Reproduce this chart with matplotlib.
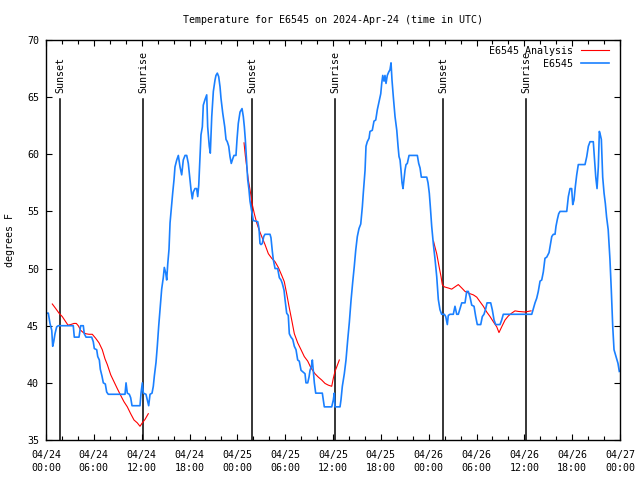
import datetime as dt
import matplotlib
matplotlib.use("Agg")
import matplotlib.pyplot as plt
import matplotlib.dates as mdates

# Observations: hours since 2024-04-24 00:00 UTC, temperature (F)
obs_hours = [
    0.00, 0.29, 0.50, 0.72, 0.84, 0.97, 1.13, 1.34, 1.54, 3.42, 3.55, 4.14, 4.35, 4.68, 4.80, 5.02,
    5.73, 5.93, 6.06, 6.36, 6.49, 6.69, 6.81, 7.02, 7.19, 7.44, 7.61, 7.81, 9.91, 10.04, 10.20, 10.45,
    10.62, 10.79, 11.79, 11.92, 12.08, 12.21, 12.54, 12.71, 12.88, 13.05, 13.30, 13.46, 13.59, 13.80,
    13.96, 14.14, 14.30, 14.51, 14.71, 14.84, 15.02, 15.14, 15.27, 15.43, 15.56, 15.77, 15.89, 16.06,
    16.18, 16.40, 16.60, 16.81, 17.02, 17.22, 17.44, 17.65, 17.85, 18.06, 18.19, 18.35, 18.48, 18.69,
    18.90, 19.03, 19.16, 19.32, 19.44, 19.61, 19.73, 19.95, 20.16, 20.28, 20.48, 20.61, 20.79, 20.99,
    21.20, 21.32, 21.49, 21.66, 21.83, 21.95, 22.17, 22.42, 22.58, 22.74, 22.92, 23.08, 23.24, 23.42,
    23.58, 23.83, 23.96, 24.12, 24.34, 24.59, 24.75, 24.88, 25.00, 25.18, 25.30, 25.46, 25.59, 25.80,
    26.00, 26.56, 26.72, 26.84, 26.97, 27.13, 27.31, 27.47, 28.10, 28.22, 28.39, 28.51, 28.73, 29.06,
    29.27, 29.48, 29.64, 29.86, 29.98, 30.19, 30.39, 30.52, 30.73, 30.95, 31.15, 31.36, 31.57, 31.77,
    31.99, 32.49, 32.61, 32.83, 32.99, 33.12, 33.28, 33.41, 33.53, 33.66, 33.83, 34.66, 34.79, 34.91,
    35.84, 36.04, 36.16, 36.25, 36.88, 37.00, 37.17, 37.42, 37.63, 37.85, 38.05, 38.26, 38.47, 38.67,
    38.85, 39.05, 39.26, 39.48, 39.68, 39.80, 40.02, 40.14, 40.30, 40.52, 40.64, 40.93, 41.14, 41.36,
    41.56, 41.77, 41.99, 42.11, 42.24, 42.40, 42.52, 42.65, 42.81, 42.99, 43.15, 43.28, 43.40, 43.57,
    43.78, 44.00, 44.16, 44.28, 44.41, 44.53, 44.66, 44.78, 44.91, 45.03, 45.16, 45.32, 45.54, 46.58,
    46.75, 46.92, 47.08, 47.76, 47.92, 48.08, 48.21, 48.38, 48.58, 48.80, 49.01, 49.21, 49.42, 49.63,
    49.96, 50.14, 50.34, 50.46, 50.68, 51.09, 51.30, 51.52, 51.72, 51.93, 52.15, 52.56, 52.77, 52.97,
    53.19, 53.40, 53.69, 53.90, 54.10, 54.53, 54.73, 54.94, 55.16, 55.32, 55.78, 55.98, 56.20, 56.41,
    56.95, 57.16, 57.36, 60.93, 61.13, 61.34, 61.55, 61.75, 61.97, 62.18, 62.38, 62.59, 62.81, 63.10,
    63.44, 63.64, 63.85, 63.97, 64.14, 64.31, 64.48, 65.32, 65.52, 65.73, 65.94, 66.07, 66.23, 66.40,
    66.57, 66.77, 67.61, 67.83, 68.03, 68.24, 68.65, 68.78, 68.96, 69.12, 69.28, 69.41, 69.53, 69.66,
    69.83, 70.00, 70.16, 70.32, 70.52, 70.74, 70.91, 71.09, 71.25, 71.50, 71.75, 71.91,
]
obs_temp = [
    46.1, 46.1, 45.2, 44.6, 43.2, 43.6, 44.3, 44.9, 45.0, 45.0, 44.0, 44.0, 45.0, 45.0, 44.3, 44.0,
    44.0, 43.6, 43.0, 42.9, 42.3, 42.0, 41.2, 40.6, 40.0, 39.9, 39.2, 39.0, 39.0, 40.0, 39.1, 39.0,
    38.7, 38.0, 38.0, 39.1, 40.0, 39.1, 39.0, 38.5, 38.0, 39.0, 39.1, 39.7, 40.6, 41.8,
    43.2, 45.0, 46.4, 48.2, 49.2, 50.1, 49.6, 49.0, 50.4, 51.7, 54.0, 55.7, 56.6, 57.8,
    58.9, 59.5, 59.9, 58.9, 58.2, 59.5, 59.9, 59.9, 59.2, 57.8, 56.9, 56.1, 56.7, 57.0,
    57.0, 56.3, 57.3, 59.8, 61.7, 62.4, 64.3, 64.8, 65.2, 62.4, 60.7, 60.1, 63.3, 65.5,
    66.5, 66.9, 67.1, 66.8, 65.9, 64.9, 63.6, 62.4, 61.3, 61.1, 60.7, 59.8, 59.2, 59.6,
    59.9, 59.9, 61.3, 62.7, 63.7, 64.0, 63.3, 62.4, 61.3, 59.2, 57.8, 56.9, 55.9, 55.0,
    54.2, 54.1, 53.5, 52.2, 52.1, 52.2, 52.8, 53.0, 53.0, 52.7, 51.5, 50.8, 50.0, 50.0,
    49.2, 49.0, 48.7, 48.1, 47.3, 46.1, 45.9, 44.3, 44.0, 43.8, 43.2, 42.9, 42.0, 41.9,
    41.1, 40.8, 40.0, 40.0, 40.5, 41.1, 41.4, 42.0, 41.0, 40.0, 39.1, 39.1, 38.5, 37.9,
    37.9, 38.5, 39.1, 37.9, 37.9, 38.5, 39.7, 40.8, 42.0, 43.8, 45.3, 47.2, 48.8, 50.2,
    51.6, 52.8, 53.5, 53.9, 55.4, 56.6, 58.6, 60.7, 61.1, 61.4, 62.0, 62.1, 62.9, 63.0,
    63.9, 64.6, 65.3, 66.2, 66.9, 66.4, 66.9, 66.2, 66.9, 67.2, 67.4, 68.0, 66.5, 65.0,
    63.3, 62.1, 60.7, 59.8, 59.5, 58.6, 57.5, 57.0, 57.8, 58.6, 59.1, 59.2, 59.9, 59.9,
    59.2, 58.8, 58.0, 58.0, 57.5, 56.6, 55.4, 53.7, 52.2, 50.8, 49.3, 47.3, 46.4, 46.0,
    46.0, 45.8, 45.1, 45.9, 46.0, 46.0, 46.7, 46.0, 46.0, 46.5, 47.0, 47.0, 48.0, 48.0,
    47.5, 46.8, 46.7, 45.8, 45.1, 45.1, 45.8, 46.0, 46.5, 47.0, 47.0, 46.4, 45.5, 45.1,
    45.1, 45.5, 46.0, 46.0, 46.5, 47.0, 47.4, 48.0, 48.9, 49.0, 49.7, 50.9, 51.0, 51.4,
    52.8, 53.0, 53.0, 53.7, 54.3, 54.8, 55.0, 55.0, 56.3, 57.0, 57.0, 55.6, 56.0, 57.2,
    58.2, 59.1, 59.1, 59.8, 60.7, 61.1, 61.1, 59.8, 58.0, 57.0, 58.9, 62.0, 61.7, 61.3,
    58.0, 56.6, 55.7, 54.5, 53.4, 50.8, 48.1, 44.9, 42.9, 42.3, 41.7, 41.0,
]

# Analysis: three overnight pieces
ana_hours = [
    [0.79, 1.22, 1.63, 2.04, 2.47, 2.76, 3.10, 3.51, 3.80, 4.05, 4.35, 4.68, 4.98, 5.39, 5.81,
     6.23, 6.65, 7.06, 7.40, 7.69, 8.12, 8.53, 8.94, 9.37, 9.78, 10.20, 10.62, 11.04, 11.45,
     11.79, 12.08, 12.42, 12.83],
    [24.84, 25.00, 25.38, 25.59, 25.88, 26.13, 26.43, 26.72, 27.06, 27.47, 27.89, 28.31, 28.73,
     29.14, 29.57, 29.89, 30.19, 30.48, 30.82, 31.15, 31.57, 31.99, 32.40, 32.83, 33.24, 33.74,
     34.16, 34.58, 35.00, 35.41, 35.84, 36.04, 36.25, 36.47, 36.79],
    [48.61, 48.71, 49.01, 49.30, 49.55, 49.71, 49.96, 50.46, 50.89, 51.30, 51.72, 52.15, 52.56,
     53.19, 53.60, 54.03, 54.44, 54.86, 55.28, 55.70, 56.11, 56.54, 56.82, 57.16, 57.58, 57.99,
     58.41, 58.83, 59.24, 60.08, 60.84],
]
ana_temp = [
    [46.9, 46.5, 46.1, 45.8, 45.35, 45.05, 45.1, 45.2, 45.2, 45.0, 44.6, 44.4, 44.3, 44.25, 44.25,
     43.9, 43.5, 42.9, 42.1, 41.6, 40.7, 40.1, 39.5, 38.9, 38.35, 37.9, 37.3, 36.75, 36.5,
     36.2, 36.5, 36.8, 37.3],
    [61.0, 59.9, 57.75, 56.9, 55.6, 54.8, 54.0, 53.4, 52.8, 52.1, 51.3, 50.9, 50.6,
     50.1, 49.4, 48.85, 47.8, 46.7, 45.5, 44.3, 43.5, 42.9, 42.3, 41.9, 41.3, 40.8,
     40.5, 40.25, 39.95, 39.8, 39.7, 40.4, 41.0, 41.4, 42.0],
    [52.4, 52.1, 51.3, 50.2, 49.3, 48.6, 48.4, 48.3, 48.2, 48.4, 48.6, 48.3, 48.0,
     47.8, 47.7, 47.5, 47.1, 46.7, 46.2, 45.8, 45.35, 44.9, 44.4, 44.9, 45.5, 45.85,
     46.1, 46.3, 46.25, 46.2, 46.3],
]

sunset_hours = [1.8, 25.85, 49.83]
sunrise_hours = [12.2, 36.27, 60.25]

start = dt.datetime(2024, 4, 24)


def to_time(hours):
    return [start + dt.timedelta(hours=h) for h in hours]


plt.rcParams['font.family'] = ['DejaVu Sans Mono']
plt.rcParams['font.size'] = 7.2

fig = plt.figure(figsize=(6.4, 4.8), dpi=100)
ax = fig.add_axes([46 / 640, 40 / 480, 574 / 640, 400 / 480])

# sunrise / sunset markers
for hs, label in [(sunset_hours, "Sunset"), (sunrise_hours, "Sunrise")]:
    for h in hs:
        t = start + dt.timedelta(hours=h)
        ax.plot([t, t], [35, 64.8], color="black", lw=1.1)
        ax.text(t, 65.4, label, rotation=90, ha="center", va="bottom")

red = "#ff0000"
blue = "#1a80ff"
for i, (hh, tt) in enumerate(zip(ana_hours, ana_temp)):
    ax.plot(to_time(hh), tt, color=red, lw=0.8,
            label="E6545 Analysis" if i == 0 else None)
ax.plot(to_time(obs_hours), obs_temp, color=blue, lw=1.2, label="E6545")

ax.set_xlim(start, start + dt.timedelta(days=3))
ax.set_ylim(35, 70)
ax.set_yticks(range(35, 71, 5))
ax.xaxis.set_major_locator(mdates.HourLocator(byhour=[0, 6, 12, 18]))
ax.xaxis.set_minor_locator(mdates.HourLocator(interval=2))
ax.xaxis.set_major_formatter(mdates.DateFormatter("%m/%d\n%H:%M"))
ax.tick_params(which="both", direction="in", top=True, right=True, color="black")
ax.tick_params(which="major", length=4.5, width=0.8, pad=5)
ax.tick_params(which="minor", length=3, width=0.8)
ax.tick_params(axis="x", pad=7)
for lab in ax.get_xticklabels():
    lab.set_linespacing(1.4)
for s in ax.spines.values():
    s.set_linewidth(1.0)

ax.legend(loc="upper right", bbox_to_anchor=(1 - 5 / 574, 1), frameon=False,
          markerfirst=False, handlelength=2.8, handletextpad=0.8, labelspacing=0.3,
          borderaxespad=0.3, borderpad=0.3)

fig.text(333 / 640, 1 - 20 / 480, "Temperature for E6545 on 2024-Apr-24 (time in UTC)",
         ha="center", va="center")
fig.text(10 / 640, 0.5, "degrees F", rotation=90, ha="center", va="center")

fig.savefig("out.png", dpi=100)
